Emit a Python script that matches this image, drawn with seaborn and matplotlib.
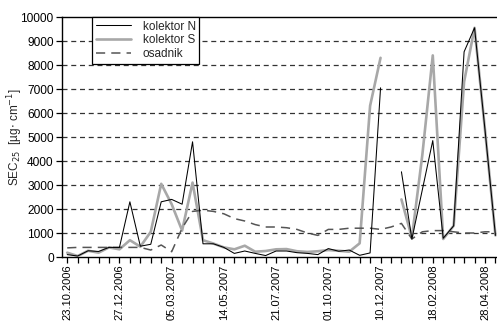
import matplotlib
matplotlib.use("Agg")
import matplotlib.pyplot as plt
from matplotlib.lines import Line2D
import numpy as np
import pandas as pd
import seaborn as sns

# sample index (one every ~2 weeks), labelled every 5th sample
tick_labels = ["23.10.2006", "27.12.2006", "05.03.2007", "14.05.2007", "21.07.2007",
               "01.10.2007", "10.12.2007", "18.02.2008", "28.04.2008"]

kolektor_n = [100, 40, 260, 230, 400, 400, 2300, 450, 530, 2300,
              2400, 2200, 4800, 550, 550, 400, 150, 250, 150, 60,
              250, 250, 180, 150, 100, 350, 240, 290, 70, 170,
              7050, np.nan, 3550, 750, 2800, 4850, 780, 1300, 8550, 9550,
              5300, 900]
kolektor_s = [180, 40, 260, 180, 400, 320, 700, 430, 1050, 3050,
              2200, 1100, 3100, 700, 560, 400, 320, 470, 220, 250,
              320, 330, 240, 210, 240, 290, 260, 220, 570, 6300,
              8300, np.nan, 2400, 800, 4250, 8400, 750, 1300, 7300, 9550,
              5300, 900]
osadnik = [380, 400, 400, 400, 400, 400, 400, 400, 290, 500,
           220, 1200, 1900, 1950, 1900, 1800, 1600, 1500, 1350, 1250,
           1250, 1220, 1150, 1000, 900, 1150, 1150, 1200, 1200, 1200,
           1150, 1250, 1400, 750, 1050, 1100, 1100, 1050, 1000, 1000,
           1050, 1050]

n = len(kolektor_n)
df = pd.DataFrame({"idx": np.arange(n), "N": kolektor_n, "S": kolektor_s, "O": osadnik})

sns.set_style("ticks")
plt.rcParams["font.family"] = ["Liberation Sans", "DejaVu Sans"]

fig = plt.figure(figsize=(4.97, 3.25), dpi=100)
ax = fig.add_axes([62 / 497, 1 - 257 / 325, 1 - 62 / 497, (257 - 17) / 325])

# draw each series; split on NaN so gaps stay gaps
def draw(col, **kw):
    vals = df[col].to_numpy()
    seg = np.cumsum(np.isnan(vals))
    sub = df.assign(seg=seg).dropna(subset=[col])
    for _, part in sub.groupby("seg"):
        sns.lineplot(data=part, x="idx", y=col, ax=ax, legend=False, **kw)

dash = (0, (6, 4))
draw("S", color="#a8a8a8", linewidth=1.9, zorder=3)
draw("O", color="#555555", linewidth=1.1, zorder=4)
draw("N", color="black", linewidth=0.75, zorder=5)
for ln in ax.lines:
    if ln.get_color() == "#555555":
        ln.set_linestyle(dash)

ax.set_xlim(-0.5, 41.15)
ax.set_ylim(0, 10000)
ax.set_yticks(np.arange(0, 10001, 1000))
ax.set_xticks(np.arange(0, n))
ax.set_xticklabels([tick_labels[i // 5] if i % 5 == 0 else "" for i in range(n)],
                   rotation=90)
ax.tick_params(axis="both", direction="out", length=4, width=0.9, colors="black",
               labelsize=8.6, pad=2)
ax.tick_params(axis="x", labelsize=8.0, pad=1.5)
ax.yaxis.grid(True, linestyle=(0, (4, 3)), color="#333333", linewidth=0.9)
gl = ax.yaxis.get_gridlines()
gl[0].set_visible(False)
gl[-1].set_visible(False)
ax.set_axisbelow(True)

for side in ["left", "bottom", "top"]:
    ax.spines[side].set_color("black")
    ax.spines[side].set_linewidth(1.0)
ax.spines["right"].set_visible(False)

ax.set_xlabel("")
ax.set_ylabel(r"SEC$_{25}$  [µg$\cdot$ cm$^{-1}$]", fontsize=8.5)
ax.yaxis.set_label_coords(-0.085, 0.5)

handles = [Line2D([], [], color="black", linewidth=0.75),
           Line2D([], [], color="#a8a8a8", linewidth=1.9),
           Line2D([], [], color="#555555", linewidth=1.1, linestyle=dash)]
leg = ax.legend(handles, ["kolektor N", "kolektor S", "osadnik"],
                loc="upper left", bbox_to_anchor=(0.069, 1.0), borderaxespad=0,
                fancybox=False, framealpha=1, edgecolor="black", fontsize=8.5,
                handlelength=3.0, labelspacing=0.15, borderpad=0.3, handletextpad=1.0)
leg.get_frame().set_linewidth(0.9)
leg.set_zorder(10)

fig.savefig("out.png", dpi=100)
